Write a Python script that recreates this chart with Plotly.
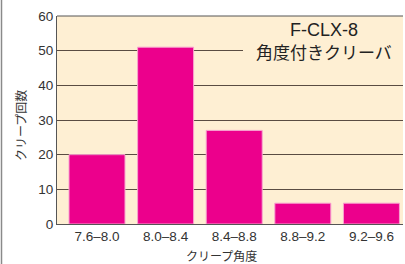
import plotly.graph_objects as go

categories = ["7.6–8.0", "8.0–8.4", "8.4–8.8", "8.8–9.2", "9.2–9.6"]
counts = [20, 51, 27, 6, 6]
y_ticks = [0, 10, 20, 30, 40, 50, 60]

W, H = 405, 264
L, R, T, B = 57, 2, 16, 40
pw, ph = W - L - R, H - T - B

def px(x):
    return (x - L) / pw

def py(y):
    return (H - B - y) / ph

cream = "#FEEFD3"
font_fam = "Arial, 'Liberation Sans', 'Noto Sans CJK JP', sans-serif"
jp_fam = "'Noto Sans CJK JP', sans-serif"

fig = go.Figure()
fig.add_trace(go.Bar(
    x=list(range(len(categories))), y=counts, width=0.816,
    marker=dict(color="#EC008C", line=dict(color="#F7A3CF", width=1)),
))

title_text = ("<span style='font-size:18px'>F-CLX-8</span><br>"
              "<span style='font-size:17px;font-family:Noto Sans CJK JP'>角度付きクリーバ</span>")

fig.update_layout(
    width=W, height=H,
    margin=dict(l=L, r=R, t=T, b=B),
    paper_bgcolor="white", plot_bgcolor=cream,
    showlegend=False,
    font=dict(family=font_fam, size=13, color="#333333"),
    xaxis=dict(
        range=[-0.583, 4.46], tickmode="array",
        tickvals=list(range(len(categories))), ticktext=categories,
        showgrid=False, showline=True, linecolor="#555555", linewidth=1,
        ticks="", tickfont=dict(size=13.5, color="#333333"), fixedrange=True,
    ),
    yaxis=dict(
        range=[0, 60], tickmode="array", tickvals=y_ticks,
        showgrid=True, gridcolor="#5a4c42", gridwidth=1,
        showline=True, linecolor="#555555", linewidth=1, mirror=False,
        zeroline=False, ticks="", tickfont=dict(size=13.5, color="#333333"),
        fixedrange=True,
    ),
    shapes=[
        dict(type="line", xref="paper", yref="paper",
             x0=px(1.5), x1=px(1.5), y0=py(0), y1=py(H),
             line=dict(color="#8a8a8a", width=1.5)),
        dict(type="line", xref="paper", yref="paper",
             x0=0, x1=1, y0=1, y1=1,
             line=dict(color="#555555", width=1)),
        dict(type="rect", xref="paper", yref="paper",
             x0=px(243), x1=1, y0=py(62), y1=py(43),
             fillcolor=cream, line=dict(width=0), layer="above"),
    ],
    annotations=[
        dict(text=title_text, xref="paper", yref="paper", x=px(324), y=py(41.5),
             showarrow=False, xanchor="center", yanchor="middle", align="center",
             font=dict(size=17.5, color="#222222")),
        dict(text="クリープ角度", xref="paper", yref="paper", x=px(221), y=py(256),
             showarrow=False, xanchor="center", yanchor="middle",
             font=dict(size=12, color="#333333", family=jp_fam)),
        dict(text="クリープ回数", xref="paper", yref="paper", x=px(20), y=py(126),
             showarrow=False, xanchor="center", yanchor="middle", textangle=-90,
             font=dict(size=12, color="#333333", family=jp_fam)),
    ],
)

fig.write_html("out.html", config={"displayModeBar": False},
               post_script="document.body.style.margin='0';")
